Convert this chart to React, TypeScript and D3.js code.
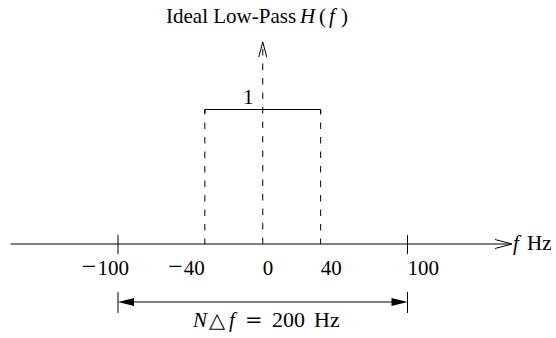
import React from "react";
import * as d3 from "d3";

const tickValues = [-100, -40, 0, 40, 100];
const tickNumbers = ["100", "40", "0", "40", "100"];
const passband = [-40, 40];
const gain = [0, 1];
const span = [-100, 100];

const W = 556, H = 338;
const font = "'Liberation Serif', 'Times New Roman', serif";
const FS = 21;

export default function App() {
  const x = d3.scaleLinear().domain([-100, 100]).range([118, 407.5]);
  const y = d3.scaleLinear().domain([0, 1]).range([244, 109.5]);
  const yAxis = y(0);
  const yTop = y(gain[1]);
  const rectPath = d3.line<[number, number]>()([
    [x(passband[0]), yTop + 4],
    [x(passband[0]), yTop],
    [x(passband[1]), yTop],
    [x(passband[1]), yTop + 4],
  ]) as string;
  const dimY = 302;
  const xL = x(span[0]), xR = x(span[1]);
  const dash = "6.5,8";
  // label placement style: negative labels end near tick, others start at tick
  const labelStyle = (v: number) =>
    v < 0 ? { anchor: "end", dx: v === -100 ? 11 : 0 } : { anchor: "start", dx: 0 };
  return (
    <svg width={W} height={H} style={{ position: "absolute", left: 0, top: 0, background: "#fff" }} fontFamily={font}>
      {/* title */}
      <text y={23} fontSize={FS} fill="#000">
        <tspan x={166}>Ideal Low-Pass</tspan>
        <tspan x={300} fontStyle="italic">H</tspan>
        <tspan x={319}>(</tspan>
        <tspan x={329} fontStyle="italic">f</tspan>
        <tspan x={341}>)</tspan>
      </text>
      {/* horizontal axis */}
      <line x1={10.5} x2={511} y1={yAxis} y2={yAxis} stroke="#000" strokeWidth={1} />
      <path d={`M ${495} ${yAxis - 4.5} L ${512} ${yAxis} L ${495} ${yAxis + 4.5}`} fill="none" stroke="#000" strokeWidth={1} />
      <text y={yAxis + 6} fontSize={FS} fill="#000">
        <tspan x={513} fontStyle="italic">f</tspan>
        <tspan x={527}>Hz</tspan>
      </text>
      {/* vertical dashed axis */}
      <line x1={x(0)} x2={x(0)} y1={yAxis} y2={43} stroke="#000" strokeWidth={1} strokeDasharray={dash} />
      <path d={`M ${x(0) - 4} ${57} L ${x(0)} ${42} L ${x(0) + 4} ${57}`} fill="none" stroke="#000" strokeWidth={1} />
      {/* passband */}
      <path d={rectPath} fill="none" stroke="#000" strokeWidth={1} />
      {passband.map((v) => (
        <line key={v} x1={x(v)} x2={x(v)} y1={yTop} y2={yAxis} stroke="#000" strokeWidth={1} strokeDasharray={dash} strokeDashoffset={1.5} />
      ))}
      <text x={243} y={yTop - 5.5} fontSize={FS} fill="#000">1</text>
      {/* ticks */}
      {span.map((v) => (
        <line key={"t" + v} x1={x(v)} x2={x(v)} y1={yAxis - 9} y2={yAxis + 10} stroke="#000" strokeWidth={1} />
      ))}
      {tickValues.map((v, i) => {
        const s = labelStyle(v);
        return (
          <text key={"l" + v} x={x(v) + s.dx} y={yAxis + 31} fontSize={FS} textAnchor={s.anchor} fill="#000">
            {v < 0 ? <tspan fontSize={26}>{"\u2212"}</tspan> : null}
            <tspan dx={v < 0 ? 1 : 0}>{tickNumbers[i]}</tspan>
          </text>
        );
      })}
      {/* dimension */}
      <line x1={xL} x2={xL} y1={dimY - 10} y2={dimY + 11} stroke="#000" strokeWidth={1} />
      <line x1={xR} x2={xR} y1={dimY - 10} y2={dimY + 11} stroke="#000" strokeWidth={1} />
      <line x1={xL + 14} x2={xR - 14} y1={dimY} y2={dimY} stroke="#000" strokeWidth={1} />
      <path d={`M ${xL} ${dimY} L ${xL + 16} ${dimY - 4} L ${xL + 16} ${dimY + 4} Z`} fill="#000" />
      <path d={`M ${xR} ${dimY} L ${xR - 16} ${dimY - 4} L ${xR - 16} ${dimY + 4} Z`} fill="#000" />
      <text y={327} fontSize={FS} fill="#000">
        <tspan x={193} fontStyle="italic">N</tspan>
        <tspan x={209} fontFamily="'DejaVu Sans', sans-serif" fontSize={21}>{"\u25B3"}</tspan>
        <tspan x={229} fontStyle="italic">f</tspan>
        <tspan x={245} fontFamily="'DejaVu Serif', serif">=</tspan>
        <tspan x={272} fontSize={22}>200</tspan>
        <tspan x={314} fontSize={22}>Hz</tspan>
      </text>
    </svg>
  );
}
